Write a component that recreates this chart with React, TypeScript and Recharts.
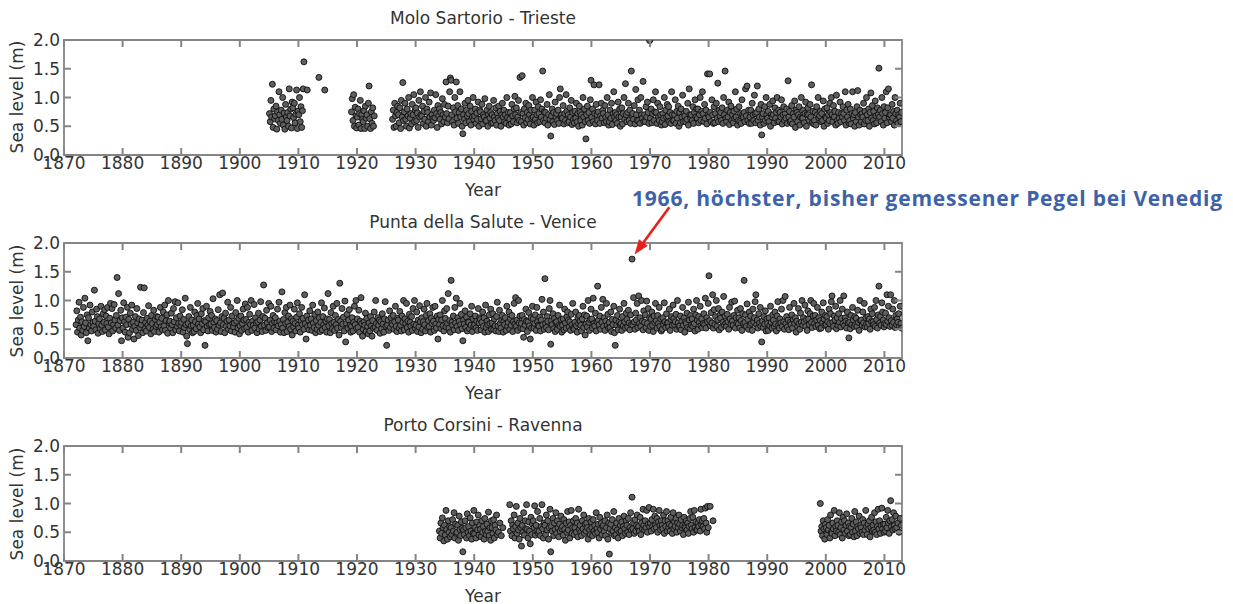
import React from 'react';
import { ScatterChart, Scatter, XAxis, YAxis, ReferenceLine, ReferenceArea } from 'recharts';

type Row = [number, number[]];

// Sea level values are in centimetres, one row per year
const yearTicks = [1870, 1880, 1890, 1900, 1910, 1920, 1930, 1940, 1950, 1960, 1970, 1980, 1990, 2000, 2010];
const levelTicks = [0, 0.5, 1, 1.5, 2];
const yearDomain = [1870, 2013];
const levelDomain = [0, 2];
const stationTitles = ['Molo Sartorio - Trieste', 'Punta della Salute - Venice', 'Porto Corsini - Ravenna'];
const annotationText = '1966, höchster, bisher gemessener Pegel bei Venedig';
const arrowSegment = [{ x: 1973.3, y: 2.62 }, { x: 1967.35, y: 1.8 }];

const trieste: Row[] = [
  [1905, [72, 58, 95, 66, 123, 48, 80, 63]],
  [1906, [68, 85, 45, 75, 60, 110, 70, 55]],
  [1907, [78, 62, 100, 52, 73, 45, 88, 66]],
  [1908, [60, 74, 50, 115, 68, 80, 47, 92]],
  [1909, [82, 65, 90, 56, 71, 113, 46, 76]],
  [1910, [70, 100, 58, 84, 48, 77, 115, 162]],
  [1911, [113]],
  [1913, [135]],
  [1914, [113]],
  [1919, [75, 98, 60, 105, 50, 83, 68, 47]],
  [1920, [66, 80, 52, 72, 95, 46, 70, 62]],
  [1921, [58, 77, 46, 85, 64, 70, 50, 90]],
  [1922, [120, 63, 46, 75, 55, 82, 50, 68]],
  [1926, [62, 78, 48, 90, 68, 50, 74, 85]],
  [1927, [70, 56, 82, 46, 95, 66, 126, 60]],
  [1928, [75, 90, 62, 50, 80, 68, 100, 47]],
  [1929, [64, 72, 54, 88, 70, 105, 58, 78]],
  [1930, [82, 60, 73, 48, 95, 66, 110, 70]],
  [1931, [68, 85, 55, 76, 62, 100, 50, 80]],
  [1932, [74, 58, 92, 66, 108, 52, 70, 63]],
  [1933, [60, 78, 65, 105, 72, 48, 86, 68]],
  [1934, [80, 62, 74, 54, 98, 70, 58, 88]],
  [1935, [66, 127, 72, 56, 85, 63, 110, 134]],
  [1936, [130, 70, 58, 82, 52, 100, 75, 127]],
  [1937, [64, 86, 55, 74, 110, 66, 80, 50]],
  [1938, [37, 70, 62, 90, 56, 78, 68, 95]],
  [1939, [72, 58, 85, 52, 76, 66, 100, 62]],
  [1940, [68, 80, 55, 73, 62, 92, 50, 78]],
  [1941, [75, 63, 88, 54, 70, 66, 98, 60]],
  [1942, [60, 78, 50, 70, 85, 64, 74, 55]],
  [1943, [70, 56, 95, 66, 60, 82, 52, 72]],
  [1944, [64, 85, 60, 76, 50, 70, 90, 66]],
  [1945, [78, 58, 70, 55, 100, 65, 74, 52]],
  [1946, [62, 74, 54, 88, 68, 58, 80, 102]],
  [1947, [70, 82, 56, 66, 95, 60, 135, 74]],
  [1948, [58, 138, 72, 52, 80, 65, 90, 56]],
  [1949, [74, 62, 86, 70, 54, 78, 64, 100]],
  [1950, [66, 52, 78, 62, 92, 70, 56, 84]],
  [1951, [72, 58, 96, 66, 80, 146, 60, 75]],
  [1952, [56, 74, 64, 88, 52, 70, 105, 62]],
  [1953, [33, 68, 80, 58, 74, 53, 92, 66]],
  [1954, [72, 60, 78, 55, 100, 115, 66, 70]],
  [1955, [64, 86, 54, 72, 60, 105, 76, 56]],
  [1956, [70, 58, 82, 66, 95, 53, 74, 62]],
  [1957, [56, 76, 64, 90, 58, 72, 50, 85]],
  [1958, [74, 60, 70, 52, 100, 66, 80, 58]],
  [1959, [28, 70, 85, 60, 74, 55, 96, 130]],
  [1960, [66, 80, 58, 122, 72, 54, 88, 70]],
  [1961, [60, 75, 122, 55, 68, 90, 64, 78]],
  [1962, [72, 56, 86, 66, 58, 100, 70, 52]],
  [1963, [58, 78, 64, 90, 53, 72, 110, 66]],
  [1964, [74, 60, 70, 55, 92, 66, 80, 50]],
  [1965, [66, 82, 54, 72, 100, 62, 124, 70]],
  [1966, [58, 74, 90, 60, 78, 55, 146, 68]],
  [1967, [72, 62, 86, 54, 114, 70, 60, 96]],
  [1968, [60, 78, 55, 100, 70, 64, 128, 58]],
  [1969, [70, 58, 84, 66, 92, 74, 55, 199]],
  [1970, [64, 80, 56, 72, 96, 60, 75, 110]],
  [1971, [74, 55, 90, 66, 60, 84, 70, 52]],
  [1972, [58, 72, 64, 100, 53, 78, 66, 88]],
  [1973, [68, 84, 58, 74, 55, 110, 70, 60]],
  [1974, [60, 70, 96, 55, 76, 64, 85, 50]],
  [1975, [74, 56, 80, 66, 104, 58, 72, 68]],
  [1976, [58, 76, 62, 90, 52, 115, 70, 64]],
  [1977, [70, 60, 84, 55, 74, 96, 66, 80]],
  [1978, [64, 80, 56, 70, 100, 60, 76, 110]],
  [1979, [72, 58, 88, 64, 78, 54, 141, 70]],
  [1980, [66, 141, 74, 58, 96, 70, 55, 84]],
  [1981, [56, 72, 90, 64, 125, 58, 78, 68]],
  [1982, [74, 60, 82, 55, 100, 70, 146, 64]],
  [1983, [58, 78, 66, 92, 53, 74, 85, 60]],
  [1984, [70, 56, 76, 64, 110, 66, 80, 52]],
  [1985, [60, 84, 58, 72, 55, 96, 70, 66]],
  [1986, [74, 58, 115, 68, 120, 60, 78, 55]],
  [1987, [66, 78, 55, 90, 70, 60, 104, 72]],
  [1988, [56, 74, 120, 60, 80, 66, 52, 88]],
  [1989, [35, 66, 72, 55, 84, 60, 100, 70]],
  [1990, [64, 76, 58, 88, 50, 70, 66, 94]],
  [1991, [70, 56, 82, 64, 74, 100, 58, 78]],
  [1992, [58, 74, 66, 96, 54, 70, 84, 60]],
  [1993, [72, 64, 80, 55, 129, 66, 76, 58]],
  [1994, [60, 86, 54, 72, 66, 94, 48, 78]],
  [1995, [74, 58, 70, 84, 52, 66, 100, 64]],
  [1996, [64, 78, 56, 72, 92, 50, 70, 82]],
  [1997, [70, 60, 88, 66, 122, 56, 76, 54]],
  [1998, [60, 74, 52, 84, 70, 100, 64, 68]],
  [1999, [76, 58, 72, 60, 94, 50, 80, 66]],
  [2000, [64, 82, 55, 70, 60, 90, 74, 100]],
  [2001, [70, 58, 86, 66, 76, 52, 104, 60]],
  [2002, [55, 74, 64, 92, 58, 72, 66, 84]],
  [2003, [72, 60, 110, 52, 78, 66, 88, 56]],
  [2004, [60, 80, 54, 72, 110, 64, 70, 50]],
  [2005, [74, 58, 84, 112, 66, 52, 78, 70]],
  [2006, [58, 72, 66, 90, 54, 76, 60, 100]],
  [2007, [70, 60, 80, 50, 74, 108, 64, 86]],
  [2008, [60, 76, 54, 94, 68, 56, 82, 70]],
  [2009, [151, 66, 78, 58, 100, 72, 52, 84]],
  [2010, [64, 74, 110, 56, 82, 115, 66, 70]],
  [2011, [70, 58, 88, 64, 76, 52, 100, 72]],
  [2012, [60, 78, 55, 70, 66, 90, 58, 74]],
];

const venice: Row[] = [
  [1872, [58, 82, 45, 66, 97, 52, 71, 40]],
  [1873, [63, 48, 88, 55, 104, 61, 44, 75]],
  [1874, [30, 70, 52, 92, 58, 47, 80, 62]],
  [1875, [55, 118, 64, 49, 85, 72, 43, 60]],
  [1876, [68, 51, 90, 57, 46, 77, 62, 84]],
  [1877, [49, 73, 60, 88, 54, 42, 69, 95]],
  [1878, [61, 86, 47, 58, 93, 66, 52, 74]],
  [1879, [140, 57, 112, 48, 65, 83, 30, 70]],
  [1880, [52, 96, 63, 45, 71, 58, 88, 36]],
  [1881, [67, 44, 78, 59, 92, 50, 62, 33]],
  [1882, [55, 72, 48, 86, 61, 39, 68, 53]],
  [1883, [123, 58, 66, 44, 79, 122, 51, 62]],
  [1884, [47, 69, 57, 91, 53, 64, 42, 74]],
  [1885, [60, 50, 83, 46, 67, 55, 72, 58]],
  [1886, [71, 45, 62, 88, 54, 69, 49, 80]],
  [1887, [56, 92, 48, 65, 75, 43, 100, 61]],
  [1888, [64, 52, 78, 58, 44, 86, 63, 98]],
  [1889, [49, 70, 55, 96, 60, 47, 73, 57]],
  [1890, [62, 84, 45, 67, 53, 104, 58, 38]],
  [1891, [25, 60, 72, 49, 88, 56, 66, 44]],
  [1892, [57, 46, 80, 63, 51, 74, 95, 59]],
  [1893, [68, 54, 44, 77, 60, 86, 49, 65]],
  [1894, [22, 63, 90, 55, 47, 70, 58, 81]],
  [1895, [59, 74, 48, 103, 62, 53, 68, 45]],
  [1896, [65, 50, 84, 57, 110, 61, 46, 72]],
  [1897, [113, 58, 69, 44, 78, 55, 64, 97]],
  [1898, [50, 66, 56, 88, 47, 73, 60, 54]],
  [1899, [61, 45, 79, 64, 100, 52, 69, 42]],
  [1900, [56, 73, 48, 60, 85, 66, 51, 94]],
  [1901, [67, 53, 88, 45, 62, 76, 58, 100]],
  [1902, [48, 64, 57, 93, 52, 70, 61, 44]],
  [1903, [63, 78, 50, 66, 98, 55, 46, 72]],
  [1904, [127, 57, 69, 48, 83, 61, 53, 95]],
  [1905, [54, 66, 90, 46, 60, 74, 52, 63]],
  [1906, [70, 49, 61, 85, 56, 97, 64, 45]],
  [1907, [58, 115, 52, 67, 44, 79, 60, 88]],
  [1908, [46, 62, 73, 55, 92, 50, 68, 40]],
  [1909, [64, 54, 85, 60, 47, 71, 96, 57]],
  [1910, [52, 77, 45, 64, 88, 58, 69, 50]],
  [1911, [110, 60, 33, 73, 55, 66, 49, 82]],
  [1912, [57, 68, 48, 92, 61, 53, 76, 44]],
  [1913, [65, 50, 80, 57, 70, 46, 62, 96]],
  [1914, [49, 72, 58, 87, 53, 64, 45, 68]],
  [1915, [112, 56, 67, 44, 79, 60, 51, 90]],
  [1916, [62, 48, 74, 58, 95, 52, 67, 40]],
  [1917, [130, 64, 53, 86, 59, 71, 47, 99]],
  [1918, [28, 60, 76, 52, 66, 84, 57, 45]],
  [1919, [55, 70, 47, 62, 90, 58, 100, 51]],
  [1920, [68, 53, 83, 45, 64, 105, 60, 38]],
  [1921, [50, 63, 57, 78, 46, 69, 55, 42]],
  [1922, [61, 47, 72, 56, 38, 65, 52, 80]],
  [1923, [54, 100, 60, 48, 70, 57, 66, 43]],
  [1924, [63, 51, 77, 59, 45, 68, 98, 55]],
  [1925, [22, 57, 66, 48, 82, 53, 70, 61]],
  [1926, [58, 74, 50, 63, 90, 55, 46, 69]],
  [1927, [66, 52, 81, 57, 47, 73, 62, 100]],
  [1928, [49, 68, 60, 95, 53, 64, 45, 76]],
  [1929, [62, 55, 72, 48, 86, 59, 100, 52]],
  [1930, [57, 80, 46, 66, 54, 91, 63, 44]],
  [1931, [70, 50, 63, 85, 58, 47, 74, 95]],
  [1932, [53, 65, 55, 77, 45, 69, 60, 88]],
  [1933, [64, 48, 90, 59, 52, 73, 33, 67]],
  [1934, [58, 75, 51, 66, 100, 56, 47, 82]],
  [1935, [69, 54, 86, 60, 112, 52, 65, 45]],
  [1936, [135, 62, 57, 73, 49, 88, 61, 104]],
  [1937, [55, 70, 48, 64, 95, 58, 76, 51]],
  [1938, [30, 66, 59, 82, 53, 71, 47, 63]],
  [1939, [62, 51, 77, 57, 90, 46, 68, 55]],
  [1940, [58, 73, 52, 64, 48, 86, 61, 70]],
  [1941, [67, 49, 62, 80, 55, 70, 45, 92]],
  [1942, [53, 64, 58, 46, 75, 60, 85, 50]],
  [1943, [61, 77, 50, 68, 56, 47, 72, 97]],
  [1944, [56, 46, 83, 60, 52, 66, 74, 45]],
  [1945, [64, 58, 70, 48, 90, 55, 62, 80]],
  [1946, [50, 68, 57, 74, 46, 63, 95, 59]],
  [1947, [105, 55, 66, 48, 100, 61, 73, 52]],
  [1948, [60, 74, 51, 36, 67, 57, 85, 64]],
  [1949, [46, 63, 79, 56, 33, 70, 52, 90]],
  [1950, [68, 52, 60, 75, 48, 88, 63, 57]],
  [1951, [55, 71, 47, 66, 102, 58, 80, 50]],
  [1952, [138, 60, 53, 72, 64, 49, 86, 100]],
  [1953, [24, 65, 58, 77, 51, 69, 46, 62]],
  [1954, [63, 50, 74, 57, 92, 55, 67, 45]],
  [1955, [57, 68, 49, 85, 61, 52, 72, 80]],
  [1956, [66, 54, 63, 48, 76, 58, 95, 52]],
  [1957, [50, 62, 80, 56, 45, 70, 60, 74]],
  [1958, [64, 57, 47, 68, 90, 53, 75, 40]],
  [1959, [59, 73, 54, 100, 62, 48, 67, 85]],
  [1960, [68, 52, 104, 60, 56, 78, 47, 63]],
  [1961, [125, 66, 58, 73, 50, 88, 62, 102]],
  [1962, [55, 70, 48, 64, 95, 57, 76, 52]],
  [1963, [62, 53, 80, 46, 67, 58, 90, 44]],
  [1964, [22, 66, 57, 74, 49, 62, 85, 58]],
  [1965, [60, 48, 72, 56, 95, 63, 52, 78]],
  [1966, [67, 54, 83, 61, 49, 75, 58, 172]],
  [1967, [57, 105, 63, 50, 78, 66, 95, 53]],
  [1968, [108, 60, 70, 55, 100, 64, 49, 82]],
  [1969, [62, 75, 53, 99, 60, 86, 48, 70]],
  [1970, [55, 68, 80, 57, 46, 73, 62, 95]],
  [1971, [65, 52, 74, 60, 88, 55, 68, 47]],
  [1972, [50, 70, 58, 96, 63, 53, 77, 60]],
  [1973, [61, 54, 85, 48, 67, 72, 57, 92]],
  [1974, [69, 58, 63, 76, 50, 100, 61, 55]],
  [1975, [56, 73, 49, 64, 88, 57, 70, 45]],
  [1976, [63, 60, 78, 53, 97, 66, 51, 74]],
  [1977, [57, 68, 55, 85, 60, 47, 75, 100]],
  [1978, [66, 50, 72, 62, 90, 56, 68, 53]],
  [1979, [60, 77, 58, 104, 52, 70, 63, 95]],
  [1980, [143, 65, 56, 79, 61, 110, 52, 84]],
  [1981, [58, 72, 100, 55, 66, 86, 49, 75]],
  [1982, [69, 53, 80, 62, 107, 57, 73, 60]],
  [1983, [55, 76, 63, 50, 88, 68, 58, 97]],
  [1984, [64, 57, 74, 99, 52, 70, 61, 83]],
  [1985, [59, 70, 52, 86, 65, 48, 77, 60]],
  [1986, [135, 62, 75, 55, 94, 67, 50, 80]],
  [1987, [57, 73, 60, 48, 85, 63, 70, 98]],
  [1988, [110, 58, 66, 52, 77, 61, 88, 55]],
  [1989, [28, 64, 53, 72, 59, 82, 47, 68]],
  [1990, [60, 48, 70, 56, 90, 62, 52, 75]],
  [1991, [66, 55, 80, 59, 47, 73, 98, 57]],
  [1992, [52, 68, 61, 85, 55, 100, 63, 50]],
  [1993, [107, 60, 72, 54, 66, 49, 88, 62]],
  [1994, [58, 75, 52, 67, 95, 60, 70, 45]],
  [1995, [64, 55, 86, 60, 50, 78, 62, 100]],
  [1996, [57, 70, 63, 92, 55, 67, 48, 82]],
  [1997, [68, 58, 77, 100, 62, 53, 73, 95]],
  [1998, [60, 74, 55, 66, 88, 57, 70, 51]],
  [1999, [65, 52, 80, 61, 96, 68, 57, 74]],
  [2000, [58, 72, 63, 50, 85, 60, 77, 98]],
  [2001, [108, 62, 55, 73, 66, 90, 51, 70]],
  [2002, [57, 77, 62, 100, 54, 69, 85, 60]],
  [2003, [108, 56, 70, 64, 52, 80, 61, 35]],
  [2004, [62, 51, 74, 58, 88, 66, 55, 72]],
  [2005, [58, 69, 55, 83, 62, 48, 100, 65]],
  [2006, [66, 57, 80, 61, 95, 54, 70, 59]],
  [2007, [54, 72, 60, 68, 50, 85, 63, 77]],
  [2008, [63, 58, 88, 55, 100, 67, 52, 75]],
  [2009, [125, 61, 72, 57, 96, 80, 66, 54]],
  [2010, [60, 78, 58, 110, 64, 90, 70, 55]],
  [2011, [110, 65, 57, 85, 62, 100, 53, 74]],
  [2012, [58, 68, 62, 77, 55, 90, 60, 52]],
];

const ravenna: Row[] = [
  [1934, [52, 40, 66, 48, 75, 58, 35, 62]],
  [1935, [45, 88, 55, 38, 70, 50, 60, 42]],
  [1936, [58, 46, 72, 52, 84, 40, 64, 48]],
  [1937, [50, 62, 36, 78, 55, 44, 68, 57]],
  [1938, [16, 54, 46, 70, 58, 40, 82, 50]],
  [1939, [60, 44, 75, 52, 38, 66, 48, 88]],
  [1940, [47, 58, 40, 68, 54, 80, 45, 62]],
  [1941, [55, 42, 70, 50, 60, 38, 74, 52]],
  [1942, [46, 64, 52, 85, 44, 58, 36, 70]],
  [1943, [58, 48, 72, 40, 62, 54, 80, 46]],
  [1944, [50, 66, 44, 58]],
  [1946, [98, 52, 70, 44, 62, 56, 80, 40]],
  [1947, [60, 95, 48, 66, 54, 38, 74, 58]],
  [1948, [26, 62, 50, 84, 45, 70, 56, 98]],
  [1949, [55, 40, 68, 52, 30, 76, 46, 64]],
  [1950, [70, 58, 96, 45, 62, 52, 86, 48]],
  [1951, [52, 74, 44, 60, 98, 56, 40, 66]],
  [1952, [62, 46, 80, 54, 70, 38, 58, 90]],
  [1953, [16, 60, 52, 74, 44, 66, 55, 84]],
  [1954, [48, 70, 58, 42, 64, 52, 78, 56]],
  [1955, [60, 45, 72, 55, 36, 66, 50, 86]],
  [1956, [54, 68, 40, 62, 88, 48, 58, 70]],
  [1957, [46, 58, 74, 50, 66, 42, 90, 55]],
  [1958, [62, 50, 44, 70, 56, 80, 48, 64]],
  [1959, [52, 66, 58, 38, 74, 54, 46, 68]],
  [1960, [58, 44, 72, 52, 62, 48, 84, 56]],
  [1961, [50, 64, 40, 76, 55, 66, 46, 60]],
  [1962, [62, 52, 70, 44, 58, 80, 38, 66]],
  [1963, [12, 56, 64, 48, 72, 52, 86, 44]],
  [1964, [58, 46, 66, 54, 40, 74, 50, 62]],
  [1965, [52, 68, 44, 60, 78, 56, 48, 70]],
  [1966, [62, 50, 74, 46, 58, 84, 54, 111]],
  [1967, [56, 66, 48, 72, 52, 62, 80, 58]],
  [1968, [60, 52, 76, 46, 66, 56, 90, 62]],
  [1969, [54, 70, 58, 88, 50, 64, 93, 60]],
  [1970, [66, 52, 72, 60, 90, 56, 78, 62]],
  [1971, [58, 74, 50, 68, 88, 62, 54, 70]],
  [1972, [62, 56, 80, 48, 70, 60, 86, 52]],
  [1973, [70, 58, 64, 52, 76, 62, 48, 84]],
  [1974, [56, 68, 60, 74, 50, 66, 58, 80]],
  [1975, [64, 52, 72, 58, 62, 46, 76, 60]],
  [1976, [58, 70, 54, 66, 48, 60, 74, 86]],
  [1977, [62, 56, 76, 50, 88, 58, 68, 54]],
  [1978, [54, 66, 60, 72, 52, 90, 62, 70]],
  [1979, [60, 74, 56, 92, 66, 50, 95, 58]],
  [1980, [95, 70]],
  [1999, [100, 52, 60, 44, 70, 56, 38, 64]],
  [2000, [58, 46, 72, 54, 62, 40, 80, 50]],
  [2001, [48, 66, 56, 88, 44, 60, 52, 70]],
  [2002, [62, 50, 84, 46, 58, 68, 40, 76]],
  [2003, [54, 70, 48, 62, 82, 52, 66, 44]],
  [2004, [60, 46, 58, 74, 50, 64, 42, 86]],
  [2005, [52, 68, 44, 60, 56, 78, 48, 62]],
  [2006, [58, 50, 72, 46, 66, 54, 88, 60]],
  [2007, [46, 64, 56, 70, 42, 58, 76, 52]],
  [2008, [62, 54, 84, 50, 68, 46, 60, 90]],
  [2009, [56, 70, 48, 62, 92, 56, 64, 50]],
  [2010, [64, 52, 76, 58, 88, 66, 48, 70]],
  [2011, [105, 60, 72, 54, 84, 62, 56, 78]],
  [2012, [58, 66, 50, 74, 62]],
];

const FONT = '"DejaVu Sans", sans-serif';
const TEXT = '#333333';
const FRAME = '#858585';

const PANEL_TOPS = [39.5, 243.3, 446];
const PLOT_H = 115;
const PLOT_W = 838;
const TICK_PX = 7;
const TICK_W = 2;

const toPoints = (rows: Row[]) =>
  rows.flatMap(([year, cms]) => cms.map((cm, i) => ({ x: year + (i + 0.5) / cms.length, y: cm / 100 })));

const Dot = (p: any) => (
  <circle cx={p.cx} cy={p.cy} r={3} fill="#5e5e5e" stroke="#0d0d0d" strokeWidth={0.9} />
);

// bottom axis tick: label plus inward tick marks on the bottom and top frame edges.
// tickSize 0 and tickMargin 2 put (x, y) 2px below the plot bottom.
const YearTick = (p: any) => {
  const x = p.x;
  const bottom = p.y - 2;
  const topEdge = bottom - PLOT_H;
  return (
    <g>
      <path d={`M${x},${bottom} L${x},${bottom - TICK_PX}`} stroke={FRAME} strokeWidth={TICK_W} fill="none" />
      <path d={`M${x},${topEdge} L${x},${topEdge + TICK_PX}`} stroke={FRAME} strokeWidth={TICK_W} fill="none" />
      <text x={x} y={p.y} dy="0.71em" textAnchor="middle" fill={TEXT} fontSize={17} fontFamily={FONT}>
        {p.payload.value}
      </text>
    </g>
  );
};

// left axis tick: label plus inward tick marks on the left and right frame edges.
// tickSize 0 and tickMargin 4 put (x, y) 4px left of the plot's left edge.
const LevelTick = (p: any) => {
  const y = p.y;
  const left = p.x + 4;
  const right = left + PLOT_W;
  return (
    <g>
      <path d={`M${left},${y} L${left + TICK_PX},${y}`} stroke={FRAME} strokeWidth={TICK_W} fill="none" />
      <path d={`M${right},${y} L${right - TICK_PX},${y}`} stroke={FRAME} strokeWidth={TICK_W} fill="none" />
      <text x={p.x} y={y} dy="0.355em" textAnchor="end" fill={TEXT} fontSize={17} fontFamily={FONT}>
        {Number(p.payload.value).toFixed(1)}
      </text>
    </g>
  );
};

const Arrow = (p: any) => {
  const { x1, y1, x2, y2 } = p;
  const dx = x2 - x1;
  const dy = y2 - y1;
  const len = Math.sqrt(dx * dx + dy * dy) || 1;
  const ux = dx / len;
  const uy = dy / len;
  const head = 15;
  const half = 5.5;
  const bx = x2 - ux * head;
  const by = y2 - uy * head;
  return (
    <g>
      <line x1={x1} y1={y1} x2={bx} y2={by} stroke="#e8201c" strokeWidth={2.6} />
      <polygon
        points={`${x2},${y2} ${bx - uy * half},${by + ux * half} ${bx + uy * half},${by - ux * half}`}
        fill="#e8201c"
      />
    </g>
  );
};

function Panel({ index, rows }: { index: number; rows: Row[] }) {
  const data = toPoints(rows);
  const top = PANEL_TOPS[index];
  return (
    <div style={{ position: 'absolute', left: 0, top: top - 40, width: 1233, height: 203 }}>
      <ScatterChart width={1233} height={203} margin={{ top: 40, right: 331, bottom: 18, left: 4 }}>
        <XAxis
          xAxisId="b"
          type="number"
          dataKey="x"
          domain={yearDomain}
          ticks={yearTicks}
          interval={0}
          allowDataOverflow
          orientation="bottom"
          height={30}
          tickSize={0}
          tickMargin={2}
          axisLine={false}
          tickLine={false}
          tick={YearTick}
        />
        <YAxis
          yAxisId="l"
          type="number"
          dataKey="y"
          domain={levelDomain}
          ticks={levelTicks}
          interval={0}
          allowDataOverflow
          width={60}
          tickSize={0}
          tickMargin={4}
          axisLine={false}
          tickLine={false}
          tick={LevelTick}
        />
        <ReferenceArea
          xAxisId="b"
          yAxisId="l"
          x1={yearDomain[0]}
          x2={yearDomain[1]}
          y1={levelDomain[0]}
          y2={levelDomain[1]}
          fill="none"
          fillOpacity={0}
          stroke={FRAME}
          strokeWidth={1.8}
          ifOverflow="visible"
        />
        <Scatter xAxisId="b" yAxisId="l" data={data} shape={Dot} isAnimationActive={false} />
        {index === 1 && (
          <ReferenceLine
            xAxisId="b"
            yAxisId="l"
            segment={arrowSegment}
            ifOverflow="visible"
            shape={Arrow}
          />
        )}
      </ScatterChart>
    </div>
  );
}

const labelStyle: React.CSSProperties = {
  position: 'absolute',
  fontFamily: FONT,
  fontSize: 17,
  color: TEXT,
  lineHeight: '20px',
  height: 20,
  textAlign: 'center',
  whiteSpace: 'nowrap',
};

export default function App() {
  const stations = [trieste, venice, ravenna];
  return (
    <div
      style={{
        position: 'absolute',
        left: 0,
        top: 0,
        width: 1233,
        height: 604,
        overflow: 'hidden',
        background: '#ffffff',
      }}
    >
      {stations.map((rows, i) => (
        <Panel key={i} index={i} rows={rows} />
      ))}
      {stationTitles.map((t, i) => (
        <div key={'t' + i} style={{ ...labelStyle, left: 183, width: 600, top: PANEL_TOPS[i] - 31.5 }}>
          {t}
        </div>
      ))}
      {PANEL_TOPS.map((tp, i) => (
        <div key={'y' + i} style={{ ...labelStyle, left: 383, width: 200, top: tp + PLOT_H + 25 }}>
          Year
        </div>
      ))}
      {PANEL_TOPS.map((tp, i) => (
        <div
          key={'s' + i}
          style={{
            ...labelStyle,
            left: 16.5 - 100,
            width: 200,
            top: tp + PLOT_H / 2 - 10,
            transform: 'rotate(-90deg)',
          }}
        >
          Sea level (m)
        </div>
      ))}
      <div
        style={{
          position: 'absolute',
          left: 632,
          top: 185,
          fontFamily: '"Open Sans", sans-serif',
          fontWeight: 700,
          fontSize: 21,
          letterSpacing: '0.8px',
          lineHeight: '26px',
          color: '#3d62a8',
          whiteSpace: 'nowrap',
        }}
      >
        {annotationText}
      </div>
    </div>
  );
}
